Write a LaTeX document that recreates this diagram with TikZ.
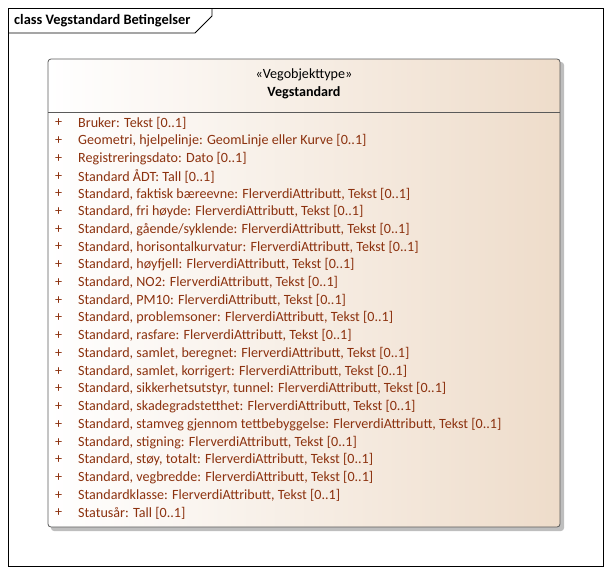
\documentclass[tikz,border=0pt]{standalone}
\usepackage{fontspec}
\setmainfont{Carlito}
\definecolor{attr}{RGB}{140,50,15}
\definecolor{beige}{RGB}{238,220,202}
\definecolor{shadowgray}{RGB}{190,190,190}
\definecolor{boxline}{RGB}{90,90,90}
\tikzset{
  x=1pt, y=-1pt,
  attrtext/.style={anchor=west, inner sep=0pt, font=\fontsize{14.1}{16}\selectfont, text=attr},
  plusmark/.style={anchor=west, inner sep=0pt, font=\fontsize{14.1}{16}\selectfont, text=attr},
}
\begin{document}
\begin{tikzpicture}
\useasboundingbox (0,0) rectangle (611,573);
% frame
\draw[line width=0.8pt] (8,8) rectangle (603,566);
\draw[line width=0.8pt] (8,33) -- (195,33) -- (212,16) -- (212,8);
\node[anchor=west, inner sep=0pt, font=\fontsize{14.4}{16}\selectfont\bfseries] (title) at (14,21) {class Vegstandard Betingelser};
% shadow
\fill[shadowgray, rounded corners=3pt] (51,62) rectangle (564,531);
% class box
\shade[left color=white, right color=beige, rounded corners=3pt] (48,59) rectangle (560,527);
\draw[line width=0.8pt, draw=boxline, rounded corners=3pt] (48,59) rectangle (560,527);
\draw[line width=0.8pt, draw=boxline] (48,112) -- (560,112);
\node[inner sep=0pt, font=\fontsize{14.1}{16}\selectfont] (stereo) at (304,75) {«Vegobjekttype»};
\node[inner sep=0pt, font=\fontsize{14.1}{16}\selectfont\bfseries] (name) at (304,93) {Vegstandard};
\foreach \t [count=\i from 0] in {
Bruker: Tekst [0..1],
{Geometri, hjelpelinje: GeomLinje eller Kurve [0..1]},
Registreringsdato: Dato [0..1],
Standard ÅDT: Tall [0..1],
{Standard, faktisk bæreevne: FlerverdiAttributt, Tekst [0..1]},
{Standard, fri høyde: FlerverdiAttributt, Tekst [0..1]},
{Standard, gående/syklende: FlerverdiAttributt, Tekst [0..1]},
{Standard, horisontalkurvatur: FlerverdiAttributt, Tekst [0..1]},
{Standard, høyfjell: FlerverdiAttributt, Tekst [0..1]},
{Standard, NO2: FlerverdiAttributt, Tekst [0..1]},
{Standard, PM10: FlerverdiAttributt, Tekst [0..1]},
{Standard, problemsoner: FlerverdiAttributt, Tekst [0..1]},
{Standard, rasfare: FlerverdiAttributt, Tekst [0..1]},
{Standard, samlet, beregnet: FlerverdiAttributt, Tekst [0..1]},
{Standard, samlet, korrigert: FlerverdiAttributt, Tekst [0..1]},
{Standard, sikkerhetsutstyr, tunnel: FlerverdiAttributt, Tekst [0..1]},
{Standard, skadegradstetthet: FlerverdiAttributt, Tekst [0..1]},
{Standard, stamveg gjennom tettbebyggelse: FlerverdiAttributt, Tekst [0..1]},
{Standard, stigning: FlerverdiAttributt, Tekst [0..1]},
{Standard, støy, totalt: FlerverdiAttributt, Tekst [0..1]},
{Standard, vegbredde: FlerverdiAttributt, Tekst [0..1]},
{Standardklasse: FlerverdiAttributt, Tekst [0..1]},
Statusår: Tall [0..1]} {
  \node[plusmark] (p\i) at (55,{123+17.73*\i}) {+};
  \node[attrtext] (a\i) at (78,{123+17.73*\i}) {\t};
}
\end{tikzpicture}
\end{document}
